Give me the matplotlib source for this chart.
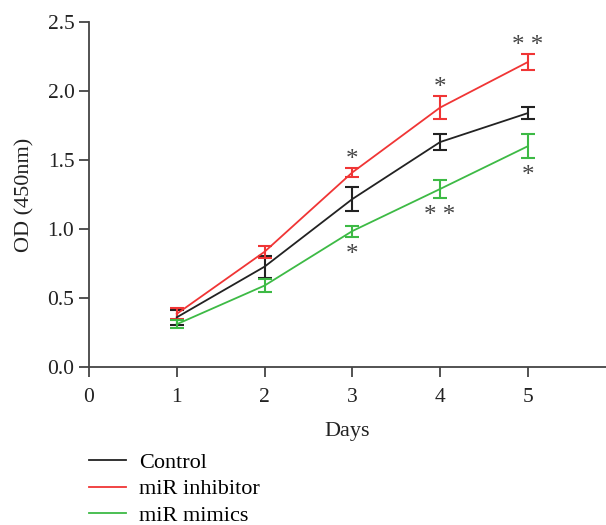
import numpy as np
import matplotlib.pyplot as plt
from matplotlib.lines import Line2D

plt.rcParams['font.family'] = ['Liberation Serif', 'DejaVu Serif']

days = [1, 2, 3, 4, 5]
control = [0.36, 0.727, 1.217, 1.63, 1.84]
control_err = [0.055, 0.08, 0.087, 0.055, 0.043]
inhibitor = [0.385, 0.835, 1.41, 1.88, 2.21]
inhibitor_err = [0.04, 0.045, 0.035, 0.085, 0.06]
mimics = [0.31, 0.59, 0.985, 1.29, 1.60]
mimics_err = [0.03, 0.05, 0.04, 0.068, 0.085]
sig_inhibitor = ['', '', '*', '*', '* *']
sig_mimics = ['', '', '*', '* *', '*']
labels = ['Control', 'miR inhibitor', 'miR mimics']

c_black = '#222222'
c_red = '#f03535'
c_green = '#3dba45'
axis_col = '#444444'

fig = plt.figure(figsize=(6.06, 5.25), dpi=100)
ax = fig.add_axes([89/606, 1-367/525, 1-89/606, (367-22)/525])

series = [(control, control_err, c_black), (inhibitor, inhibitor_err, c_red), (mimics, mimics_err, c_green)]
for vals, errs, col in series:
    ax.errorbar(days, vals, yerr=errs, color=col, lw=1.3, elinewidth=1.5,
                capsize=5, capthick=1.5)

for d, v, e, s in zip(days, inhibitor, inhibitor_err, sig_inhibitor):
    if s:
        ax.text(d, v + e - 0.025, s, ha='center', va='bottom', fontsize=18, color='#444444')
for d, v, e, s in zip(days, mimics, mimics_err, sig_mimics):
    if s:
        ax.text(d, v - e - 0.21, s, ha='center', va='bottom', fontsize=18, color='#444444')

ax.set_xlim(0, 5.89)
ax.set_ylim(0, 2.5)
ax.set_xticks([0, 1, 2, 3, 4, 5])
ax.set_yticks([0.0, 0.5, 1.0, 1.5, 2.0, 2.5])
ax.set_yticklabels(['0.0', '0.5', '1.0', '1.5', '2.0', '2.5'])
ax.spines['top'].set_visible(False)
ax.spines['right'].set_visible(False)
for sp in ['left', 'bottom']:
    ax.spines[sp].set_color(axis_col)
    ax.spines[sp].set_linewidth(1.3)
ax.tick_params(axis='both', colors=axis_col, labelcolor='#222222', labelsize=15.5,
               length=7, width=1.3)
ax.tick_params(axis='x', pad=8)
ax.set_xlabel('Days', fontsize=16, color='#222222', labelpad=11)
ax.set_ylabel('OD (450nm)', fontsize=16, color='#222222', labelpad=9)

handles = [Line2D([], [], color=c, lw=1.3) for c in [c_black, c_red, c_green]]
fig.legend(handles, labels, loc='upper left', bbox_to_anchor=(89/606, 1-452/525),
           frameon=False, fontsize=16, handlelength=1.65, handletextpad=0.6,
           labelspacing=0.28, borderpad=0, borderaxespad=0)

fig.savefig('out.png', dpi=100)
